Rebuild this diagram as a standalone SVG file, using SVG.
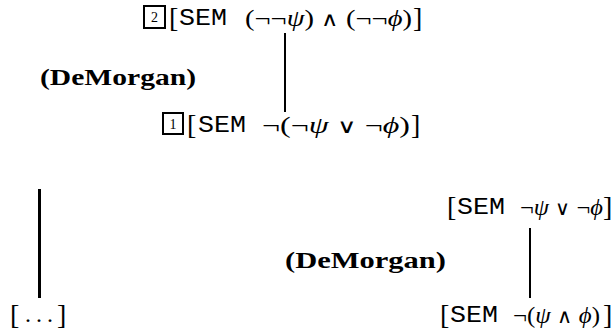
<svg xmlns="http://www.w3.org/2000/svg" width="613" height="335" viewBox="0 0 613 335">
<style>
text{font-family:"Liberation Serif",serif;font-size:24px;fill:#000}
.tt{font-family:"Liberation Mono",monospace;font-size:24px}
.br{font-size:28px}
.it{font-style:italic}
.op{font-family:"DejaVu Sans",sans-serif;font-weight:200;font-size:20px}
.b{font-weight:bold;font-size:23px}
.num{font-size:14px}
.box{fill:none;stroke:#000;stroke-width:2}
.ln{stroke:#000;fill:none}
</style>
<rect width="613" height="335" fill="#fff"/>
<g id="node2">
<rect class="box" x="144" y="6" width="21" height="22"/>
<text class="num" x="154.5" y="22" text-anchor="middle">2</text>
<text class="br" x="169" y="27">[</text>
<text class="tt" x="179" y="25" textLength="48" lengthAdjust="spacingAndGlyphs">SEM</text>
<text x="245" y="26" textLength="167" lengthAdjust="spacingAndGlyphs">(¬¬<tspan class="it">ψ</tspan>) <tspan class="op">∧</tspan> (¬¬<tspan class="it">ϕ</tspan>)</text>
<text class="br" x="413" y="27">]</text>
</g>
<g id="label1">
<text class="b" x="40" y="85" textLength="156" lengthAdjust="spacingAndGlyphs">(DeMorgan)</text>
</g>
<g id="node1">
<rect class="box" x="163" y="113" width="20" height="21"/>
<text class="num" x="173" y="129" text-anchor="middle">1</text>
<text class="br" x="187" y="134">[</text>
<text class="tt" x="198" y="132" textLength="48" lengthAdjust="spacingAndGlyphs">SEM</text>
<text x="262" y="133" textLength="148" lengthAdjust="spacingAndGlyphs">¬(¬<tspan class="it">ψ</tspan> <tspan class="op">∨</tspan> ¬<tspan class="it">ϕ</tspan>)</text>
<text class="br" x="411" y="134">]</text>
</g>
<g id="node3">
<text class="br" x="447" y="216">[</text>
<text class="tt" x="457" y="214" textLength="48" lengthAdjust="spacingAndGlyphs">SEM</text>
<text x="520" y="215" textLength="83" lengthAdjust="spacingAndGlyphs">¬<tspan class="it">ψ</tspan> <tspan class="op">∨</tspan> ¬<tspan class="it">ϕ</tspan></text>
<text class="br" x="603" y="216">]</text>
</g>
<g id="label2">
<text class="b" x="285" y="268" textLength="161" lengthAdjust="spacingAndGlyphs">(DeMorgan)</text>
</g>
<g id="node4">
<text class="br" x="10" y="324">[</text>
<text x="25" y="322" textLength="28" lengthAdjust="spacing">...</text>
<text class="br" x="57" y="324">]</text>
</g>
<g id="node5">
<text class="br" x="440" y="324">[</text>
<text class="tt" x="450" y="322" textLength="48" lengthAdjust="spacingAndGlyphs">SEM</text>
<text x="513" y="323" textLength="87" lengthAdjust="spacingAndGlyphs">¬(<tspan class="it">ψ</tspan> <tspan class="op">∧</tspan> <tspan class="it">ϕ</tspan>)</text>
<text class="br" x="603" y="324">]</text>
</g>
<g id="connectors">
<line class="ln" x1="285" y1="33" x2="285" y2="112" stroke-width="2"/>
<line class="ln" x1="39.5" y1="189" x2="39.5" y2="298" stroke-width="3"/>
<line class="ln" x1="530" y1="228" x2="530" y2="298" stroke-width="2"/>
</g>
</svg>
